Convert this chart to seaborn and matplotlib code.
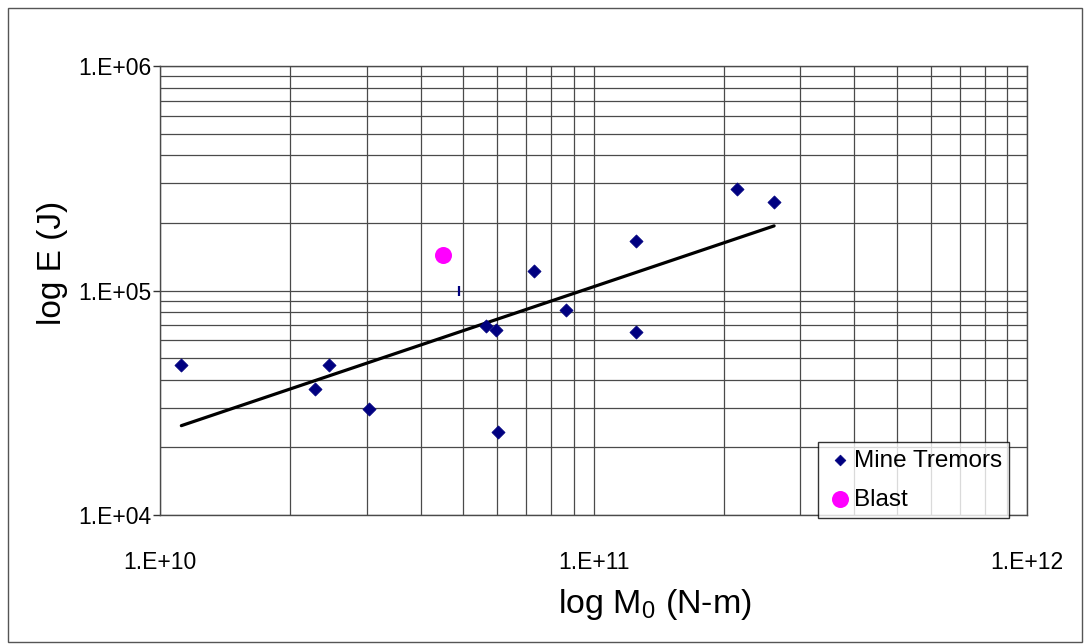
import matplotlib
matplotlib.use("Agg")
import matplotlib.pyplot as plt
import seaborn as sns
import pandas as pd
from matplotlib.ticker import LogLocator, FixedLocator, FixedFormatter, NullFormatter
from matplotlib.patches import Rectangle

# Data
tremor_m0 = [1.12e10, 2.28e10, 2.45e10, 3.03e10, 5.65e10, 5.96e10, 6.02e10,
             7.3e10, 8.64e10, 1.256e11, 1.256e11, 2.14e11, 2.61e11]
tremor_e = [4.66e4, 3.64e4, 4.66e4, 2.97e4, 6.95e4, 6.67e4, 2.35e4,
            1.225e5, 8.21e4, 6.55e4, 1.667e5, 2.83e5, 2.48e5]
blast_m0 = [4.49e10]
blast_e = [1.44e5]
dash_m0 = [4.9e10]
dash_e = [1.0e5]
trend_m0 = [1.12e10, 2.61e11]
trend_e = [2.5e4, 1.94e5]

x_ticks = [1e10, 1e11, 1e12]
x_labels = ["1.E+10", "1.E+11", "1.E+12"]
y_ticks = [1e4, 1e5, 1e6]
y_labels = ["1.E+04", "1.E+05", "1.E+06"]

sns.set_style("white")
plt.rcParams['font.family'] = ['Liberation Sans', 'DejaVu Sans']
plt.rcParams['text.color'] = 'black'
plt.rcParams['axes.labelcolor'] = 'black'
plt.rcParams['xtick.color'] = 'black'
plt.rcParams['ytick.color'] = 'black'
plt.rcParams['mathtext.fontset'] = 'custom'
plt.rcParams['mathtext.rm'] = 'Liberation Sans'
plt.rcParams['mathtext.it'] = 'Liberation Sans'

fig = plt.figure(figsize=(10.9, 6.44), dpi=100)
ax = fig.add_axes([160/1090, 1-515/644, (1027-160)/1090, (515-66)/644])

df_t = pd.DataFrame({"m0": tremor_m0, "e": tremor_e})
df_b = pd.DataFrame({"m0": blast_m0, "e": blast_e})
df_tr = pd.DataFrame({"m0": trend_m0, "e": trend_e})

ax.set_xscale("log")
ax.set_yscale("log")

sns.lineplot(data=df_tr, x="m0", y="e", ax=ax, color="black", linewidth=2.3,
             zorder=3, legend=False)
sns.scatterplot(data=df_t, x="m0", y="e", ax=ax, marker="D", s=45,
                color="#000080", edgecolor="#000080", linewidth=0.5,
                zorder=4, label="Mine Tremors")
sns.scatterplot(data=df_b, x="m0", y="e", ax=ax, marker="o", s=150,
                color="#FF00FF", edgecolor="#FF00FF", linewidth=0,
                zorder=4, label="Blast")
ax.plot(dash_m0, dash_e, marker="|", markersize=7, markeredgewidth=1.6,
        color="#000080", linestyle="none", zorder=4)

ax.set_xlim(1e10, 1e12)
ax.set_ylim(1e4, 1e6)

ax.xaxis.set_major_locator(FixedLocator(x_ticks))
ax.xaxis.set_major_formatter(FixedFormatter(x_labels))
ax.yaxis.set_major_locator(FixedLocator(y_ticks))
ax.yaxis.set_major_formatter(FixedFormatter(y_labels))
ax.xaxis.set_minor_locator(LogLocator(base=10, subs=range(2, 10)))
ax.yaxis.set_minor_locator(LogLocator(base=10, subs=range(2, 10)))
ax.xaxis.set_minor_formatter(NullFormatter())
ax.yaxis.set_minor_formatter(NullFormatter())

ax.grid(True, which="both", color="#4a4a4a", linewidth=0.9)
ax.set_axisbelow(True)
for s in ax.spines.values():
    s.set_color("#4a4a4a")
    s.set_linewidth(1.0)

ax.tick_params(axis="y", which="major", direction="out", length=5, width=1,
               color="#333333", labelsize=16.5, pad=1, left=True)
ax.tick_params(axis="x", which="major", direction="out", length=0,
               labelsize=16.5, pad=26, bottom=True)
ax.tick_params(which="minor", length=0)

ax.set_xlabel("log M$_0$ (N-m)", fontsize=24.5)
ax.set_ylabel("log E (J)", fontsize=24)
ax.xaxis.set_label_coords((655-160)/(1027-160), -(604-515)/(515-66))
ax.xaxis.label.set_va("center")
ax.yaxis.set_label_coords(-(160-53)/(1027-160), (515-263)/(515-66))
ax.yaxis.label.set_va("center")

leg = ax.legend(loc="lower right", bbox_to_anchor=(1009/1090, 1-518/644),
                bbox_transform=fig.transFigure, frameon=True, fancybox=False,
                edgecolor="black", fontsize=17.5, handletextpad=0.0,
                borderpad=0.3, labelspacing=0.7, handlelength=1.15,
                borderaxespad=0)
leg.get_frame().set_linewidth(1.0)
for h in leg.legend_handles:
    if h.get_label() == "Mine Tremors":
        h.set_sizes([30])

fig.patches.append(Rectangle((8/1090, 0.003), (1082-8)/1090, 1-8/644-0.003,
                             transform=fig.transFigure, fill=False,
                             edgecolor="#555555", linewidth=1.0))

fig.savefig("out.png", dpi=100)
